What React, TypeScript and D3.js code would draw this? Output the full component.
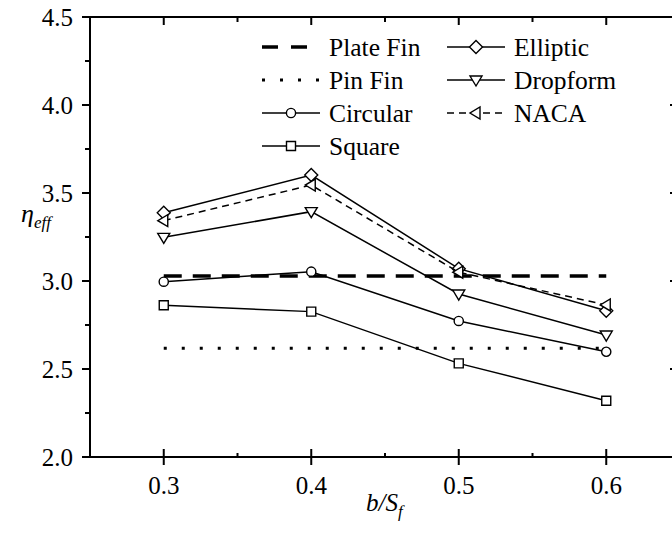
import React from "react";
import * as d3 from "d3";

const xValues = [0.3, 0.4, 0.5, 0.6];
const circular = [2.996, 3.053, 2.773, 2.598];
const square = [2.862, 2.826, 2.532, 2.32];
const elliptic = [3.388, 3.602, 3.07, 2.831];
const dropform = [3.248, 3.394, 2.926, 2.693];
const naca = [3.343, 3.545, 3.05, 2.864];
const plateFin = 3.028;
const pinFin = 2.618;
const xTicks = [0.3, 0.4, 0.5, 0.6];
const xMinor = [0.35, 0.45, 0.55];
const yTicks = [2.0, 2.5, 3.0, 3.5, 4.0, 4.5];
const yMinor = [2.25, 2.75, 3.25, 3.75, 4.25];

const W = 672;
const H = 534;
const x = d3.scaleLinear().domain([0.25, 0.65]).range([90, 680]);
const y = d3.scaleLinear().domain([2.0, 4.5]).range([457, 17]);

const FONT = '"Liberation Serif", "Times New Roman", Times, "DejaVu Serif", serif';

type Shape = "circle" | "square" | "diamond" | "down" | "left";

function markerPath(shape: Shape, cx: number, cy: number): string {
  const p = d3.path();
  if (shape === "circle") {
    p.moveTo(cx + 4.6, cy);
    p.arc(cx, cy, 4.6, 0, Math.PI * 2);
  } else if (shape === "square") {
    p.rect(cx - 4.5, cy - 4.5, 9, 9);
  } else if (shape === "diamond") {
    p.moveTo(cx, cy - 6.5);
    p.lineTo(cx + 6.5, cy);
    p.lineTo(cx, cy + 6.5);
    p.lineTo(cx - 6.5, cy);
    p.closePath();
  } else if (shape === "down") {
    p.moveTo(cx - 6, cy - 4);
    p.lineTo(cx + 6, cy - 4);
    p.lineTo(cx, cy + 6);
    p.closePath();
  } else {
    p.moveTo(cx + 4, cy - 6);
    p.lineTo(cx + 4, cy + 6);
    p.lineTo(cx - 6, cy);
    p.closePath();
  }
  return p.toString();
}

const series: { name: string; values: number[]; shape: Shape; dash?: string }[] = [
  { name: "Circular", values: circular, shape: "circle" },
  { name: "Square", values: square, shape: "square" },
  { name: "Elliptic", values: elliptic, shape: "diamond" },
  { name: "Dropform", values: dropform, shape: "down" },
  { name: "NACA", values: naca, shape: "left", dash: "7 5" },
];

const line = d3
  .line<number>()
  .x((_, i) => x(xValues[i]))
  .y((d) => y(d));

const textStyle: React.CSSProperties = { fontFamily: FONT };

export default function App() {
  const x0 = x(0.25);
  const x1 = x(0.65);
  const y0 = y(2.0);
  const y1 = y(4.5);

  const legendCol1 = [
    { label: "Plate Fin", kind: "plate" },
    { label: "Pin Fin", kind: "pin" },
    { label: "Circular", kind: "circle" },
    { label: "Square", kind: "square" },
  ];
  const legendCol2 = [
    { label: "Elliptic", kind: "diamond" },
    { label: "Dropform", kind: "down" },
    { label: "NACA", kind: "left" },
  ];
  const rowY = [47, 80, 113, 146];

  const legendItem = (item: { label: string; kind: string }, lx: number, ly: number, key: string) => {
    const lw = 58;
    let sample: React.ReactNode = null;
    if (item.kind === "plate") {
      sample = (
        <line x1={lx} x2={lx + lw} y1={ly} y2={ly} stroke="#000" strokeWidth={3.5} strokeDasharray="16 13" />
      );
    } else if (item.kind === "pin") {
      sample = (
        <line x1={lx} x2={lx + lw} y1={ly} y2={ly} stroke="#000" strokeWidth={3} strokeDasharray="3 15" />
      );
    } else {
      const dash = item.kind === "left" ? "7 5" : undefined;
      sample = (
        <g>
          <line x1={lx} x2={lx + lw} y1={ly} y2={ly} stroke="#000" strokeWidth={1.5} strokeDasharray={dash} />
          <path d={markerPath(item.kind as Shape, lx + lw / 2, ly)} fill="#fff" stroke="#000" strokeWidth={1.4} />
        </g>
      );
    }
    return (
      <g key={key}>
        {sample}
        <text x={lx + lw + 9} y={ly + 8.5} style={textStyle} fontSize={25.5} fill="#000">
          {item.label}
        </text>
      </g>
    );
  };

  return (
    <svg
      width={W}
      height={H}
      viewBox={`0 0 ${W} ${H}`}
      style={{ position: "absolute", left: 0, top: 0, display: "block", background: "#fff" }}
    >
      <rect x={0} y={0} width={W} height={H} fill="#fff" />
      {/* reference lines */}
      <line x1={x(0.3)} x2={x(0.6)} y1={y(plateFin)} y2={y(plateFin)} stroke="#000" strokeWidth={3.5} strokeDasharray="18 11" />
      <line x1={x(0.3)} x2={x(0.6)} y1={y(pinFin)} y2={y(pinFin)} stroke="#000" strokeWidth={3} strokeDasharray="3 15" />

      {/* series */}
      {series.map((s) => (
        <g key={s.name}>
          <path d={line(s.values) || ""} fill="none" stroke="#000" strokeWidth={1.5} strokeDasharray={s.dash} />
          {s.values.map((v, i) => (
            <path key={i} d={markerPath(s.shape, x(xValues[i]), y(v))} fill="#fff" stroke="#000" strokeWidth={1.4} />
          ))}
        </g>
      ))}

      {/* frame */}
      <rect x={x0} y={y1} width={x1 - x0} height={y0 - y1} fill="none" stroke="#000" strokeWidth={2} />

      {/* bottom axis ticks */}
      {xTicks.map((t) => (
        <g key={"xt" + t}>
          <line x1={x(t)} x2={x(t)} y1={y0 - 8} y2={y0 + 8} stroke="#000" strokeWidth={2} />
          <line x1={x(t)} x2={x(t)} y1={y1} y2={y1 + 8} stroke="#000" strokeWidth={2} />
          <text x={x(t)} y={y0 + 37} textAnchor="middle" style={textStyle} fontSize={25} fill="#000">
            {d3.format(".1f")(t)}
          </text>
        </g>
      ))}
      {xMinor.map((t) => (
        <g key={"xm" + t}>
          <line x1={x(t)} x2={x(t)} y1={y0 - 4} y2={y0 + 1} stroke="#000" strokeWidth={2} />
          <line x1={x(t)} x2={x(t)} y1={y1} y2={y1 + 5} stroke="#000" strokeWidth={2} />
        </g>
      ))}

      {/* left / right axis ticks */}
      {yTicks.map((t) => (
        <g key={"yt" + t}>
          <line x1={x0 - 8} x2={x0} y1={y(t)} y2={y(t)} stroke="#000" strokeWidth={2} />
          <line x1={x1 - 10} x2={x1} y1={y(t)} y2={y(t)} stroke="#000" strokeWidth={2} />
          <text x={x0 - 17} y={y(t) + 8.5} textAnchor="end" style={textStyle} fontSize={25} fill="#000">
            {d3.format(".1f")(t)}
          </text>
        </g>
      ))}
      {yMinor.map((t) => (
        <g key={"ym" + t}>
          <line x1={x0 - 5} x2={x0} y1={y(t)} y2={y(t)} stroke="#000" strokeWidth={2} />
          <line x1={x1 - 5} x2={x1} y1={y(t)} y2={y(t)} stroke="#000" strokeWidth={2} />
        </g>
      ))}

      {/* axis titles */}
      <text x={21} y={222} style={textStyle} fontStyle="italic" fontSize={26} fill="#000">
        η
        <tspan fontSize={17} dy={6}>eff</tspan>
      </text>
      <text x={366} y={511} style={textStyle} fontStyle="italic" fontSize={25} fill="#000">
        b/S
        <tspan fontSize={17} dy={6}>f</tspan>
      </text>

      {/* legend */}
      {legendCol1.map((it, i) => legendItem(it, 262, rowY[i], "l1" + i))}
      {legendCol2.map((it, i) => legendItem(it, 447, rowY[i], "l2" + i))}
    </svg>
  );
}
